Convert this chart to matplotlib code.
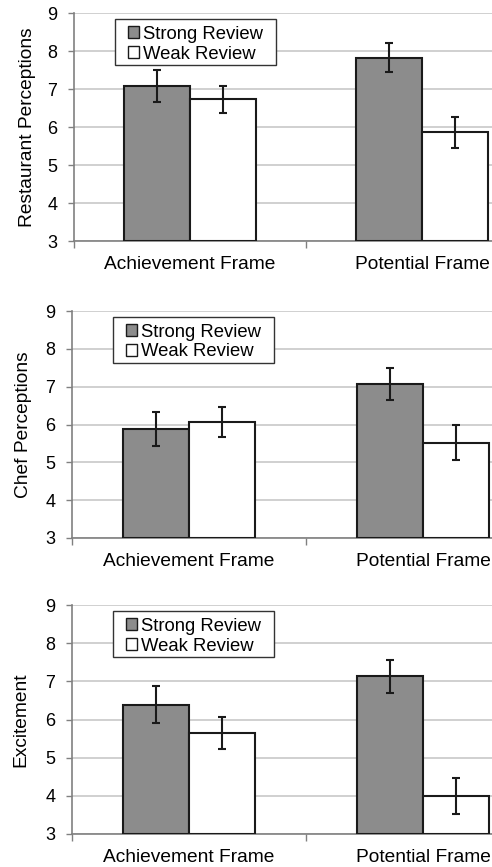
import matplotlib
matplotlib.use('Agg')
import matplotlib.pyplot as plt
from matplotlib.patches import Rectangle
import numpy as np

plt.rcParams['font.family'] = ['Liberation Sans', 'DejaVu Sans']

# data ---------------------------------------------------------------
frames = ['Achievement Frame', 'Potential Frame']
series = ['Strong Review', 'Weak Review']
panels = ['Restaurant Perceptions', 'Chef Perceptions', 'Excitement']

strong_means = [[7.07, 7.82], [5.88, 7.07], [6.39, 7.13]]
strong_errs = [[0.42, 0.38], [0.45, 0.42], [0.49, 0.44]]
weak_means = [[6.73, 5.86], [6.07, 5.52], [5.65, 4.00]]
weak_errs = [[0.35, 0.41], [0.40, 0.46], [0.41, 0.47]]

# layout (pixels) ----------------------------------------------------
W, H = 492, 867
boxes = [(74, 13, 241), (72, 311, 538), (72, 605, 834)]  # left, top, bottom
label_x = [-0.091, -0.095, -0.102]

fig = plt.figure(figsize=(W / 100, H / 100), dpi=100)
bw = 0.284
x = np.arange(len(frames))

for i, (left, top, bottom) in enumerate(boxes):
    ax = fig.add_axes([left / W, 1 - bottom / H, (W - left) / W, (bottom - top) / H])
    ppu = (306 - left)  # pixels per category

    ax.bar(x - bw / 2, [m - 3 for m in strong_means[i]], bw, bottom=3, color='#8c8c8c',
           edgecolor='#1a1a1a', linewidth=1.5, label=series[0], zorder=3)
    ax.bar(x + bw / 2, [m - 3 for m in weak_means[i]], bw, bottom=3, color='white',
           edgecolor='#1a1a1a', linewidth=1.5, label=series[1], zorder=3)
    ax.errorbar(x - bw / 2, strong_means[i], yerr=strong_errs[i], fmt='none',
                ecolor='#1a1a1a', elinewidth=1.5, capsize=3, capthick=1.5, zorder=4)
    ax.errorbar(x + bw / 2, weak_means[i], yerr=weak_errs[i], fmt='none',
                ecolor='#1a1a1a', elinewidth=1.5, capsize=3, capthick=1.5, zorder=4)

    ax.set_yticks(range(3, 10))
    ax.yaxis.grid(True, color='#c8c8c8', linewidth=1.2, zorder=0)
    ax.set_axisbelow(True)
    ax.tick_params(axis='y', length=4, width=1, color='#808080', labelsize=13, pad=8)

    ax.set_xticks([-0.5, 0.5])
    ax.set_xticklabels([])
    ax.set_xticks(x, labels=frames, minor=True)
    ax.tick_params(axis='x', which='major', length=5, width=1, color='#808080')
    ax.tick_params(axis='x', which='minor', length=0, labelsize=13.8, pad=11)

    # limits after ticks so set_xticks does not widen them
    ax.set_xlim(-0.5, -0.5 + (W - left) / ppu)
    ax.set_ylim(3, 9)

    for s in ['top', 'right']:
        ax.spines[s].set_visible(False)
    for s in ['left', 'bottom']:
        ax.spines[s].set_color('#808080')
        ax.spines[s].set_linewidth(1.2)

    ax.set_ylabel(panels[i], fontsize=13.8)
    ax.yaxis.set_label_coords(label_x[i], 0.5)

    # legend: frameless entries plus a separate box, like the old Excel look
    aw = W - left
    leg = ax.legend(loc='upper left', bbox_to_anchor=(54 / aw, 0.944),
                    borderaxespad=0, fontsize=13.3, frameon=False,
                    handlelength=0.6, handleheight=0.6, handletextpad=0.2,
                    labelspacing=0.15, borderpad=0.0)
    for h in leg.legend_handles:
        h.set_linewidth(1.0)
    ax.add_patch(Rectangle((0.098, 0.772), 161 / aw, 0.202, transform=ax.transAxes,
                           facecolor='white', edgecolor='#333333', linewidth=1.0,
                           zorder=5))
    leg.set_zorder(6)

fig.savefig('out.png', dpi=100)
